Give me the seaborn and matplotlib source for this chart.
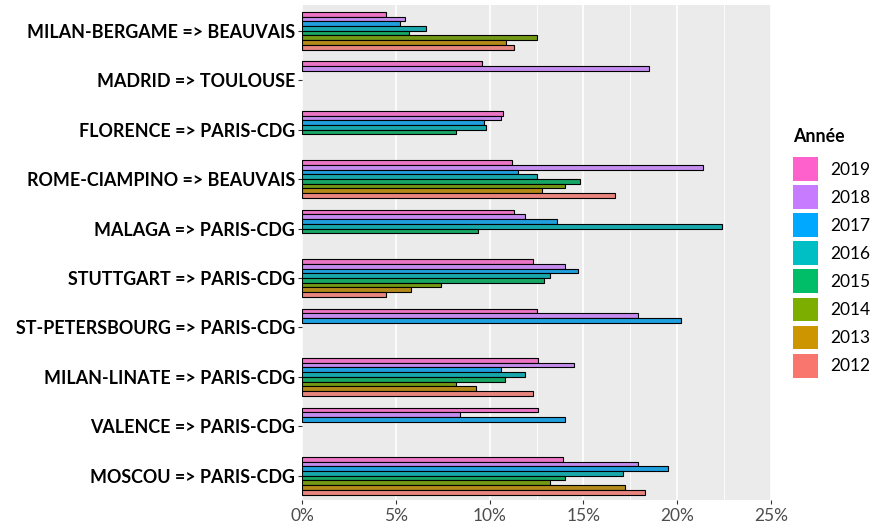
import numpy as np
import pandas as pd
import matplotlib
matplotlib.use('Agg')
import matplotlib.pyplot as plt
import seaborn as sns
from matplotlib.patches import Patch
from matplotlib.legend_handler import HandlerPatch
from matplotlib.ticker import PercentFormatter

nan = np.nan

# routes (top to bottom)
routes = ['MILAN-BERGAME => BEAUVAIS', 'MADRID => TOULOUSE', 'FLORENCE => PARIS-CDG',
          'ROME-CIAMPINO => BEAUVAIS', 'MALAGA => PARIS-CDG', 'STUTTGART => PARIS-CDG',
          'ST-PETERSBOURG => PARIS-CDG', 'MILAN-LINATE => PARIS-CDG', 'VALENCE => PARIS-CDG',
          'MOSCOU => PARIS-CDG']

years = ['2019', '2018', '2017', '2016', '2015', '2014', '2013', '2012']

# values in %
v2019 = [4.5, 9.6, 10.7, 11.2, 11.3, 12.3, 12.5, 12.6, 12.6, 13.9]
v2018 = [5.5, 18.5, 10.6, 21.4, 11.9, 14.0, 17.9, 14.5, 8.4, 17.9]
v2017 = [5.2, nan, 9.7, 11.5, 13.6, 14.7, 20.2, 10.6, 14.0, 19.5]
v2016 = [6.6, nan, 9.8, 12.5, 22.4, 13.2, nan, 11.9, nan, 17.1]
v2015 = [5.7, nan, 8.2, 14.8, 9.4, 12.9, nan, 10.8, nan, 14.0]
v2014 = [12.5, nan, nan, 14.0, nan, 7.4, nan, 8.2, nan, 13.2]
v2013 = [10.9, nan, nan, 12.8, nan, 5.8, nan, 9.3, nan, 17.2]
v2012 = [11.3, nan, nan, 16.7, nan, 4.5, nan, 12.3, nan, 18.3]

colors = ['#FF61CC', '#C77CFF', '#00A9FF', '#00BFC4', '#00BE67', '#7CAE00', '#CD9600', '#F8766D']

values = [v2019, v2018, v2017, v2016, v2015, v2014, v2013, v2012]
rows = []
for y, vals in zip(years, values):
    for r, v in zip(routes, vals):
        if not np.isnan(v):
            rows.append({'route': r, 'year': y, 'value': v})
df = pd.DataFrame(rows)

fig = plt.figure(figsize=(8.88, 5.23), dpi=100)
ax = fig.add_axes([302 / 888, 1 - 500 / 523, (771 - 302) / 888, (500 - 5) / 523])

sns.barplot(data=df, y='route', x='value', hue='year', order=routes, hue_order=years,
            palette=colors, orient='h', width=0.76, edgecolor='black', linewidth=0.8,
            dodge=True, ax=ax, legend=False, zorder=3)

ax.set_facecolor('#EBEBEB')
for s in ax.spines.values():
    s.set_visible(False)

ax.set_xlim(0, 25)
ax.set_ylim(9.49, -0.52)
ax.set_xticks([0, 5, 10, 15, 20, 25])
ax.set_xticks([12.5, 17.5, 22.5], minor=True)
ax.xaxis.set_major_formatter(PercentFormatter(decimals=0))
ax.grid(axis='x', which='major', color='white', lw=1.2, zorder=0)
ax.grid(axis='x', which='minor', color='white', lw=0.6, zorder=0)
ax.grid(axis='y', visible=False)
ax.set_axisbelow(True)
ax.tick_params(axis='x', which='minor', length=0)
ax.tick_params(axis='x', which='major', length=3, color='#333333', labelsize=12.5,
               labelcolor='#4D4D4D', pad=3)
ax.tick_params(axis='y', length=3, color='#333333', pad=2)
for lab in ax.get_xticklabels():
    lab.set_family('Lato')
for lab in ax.get_yticklabels():
    lab.set_family('Lato')
    lab.set_fontweight('bold')
    lab.set_fontsize(12.9)
    lab.set_color('black')
ax.set_xlabel('')
ax.set_ylabel('')

# legend with big square keys like ggplot, title as separate text
fig.text(793 / 888, 1 - 137 / 523, 'Année', family='Lato', fontweight='bold',
         fontsize=12.8, ha='left', va='center')
handles = [Patch(facecolor=c, edgecolor='none', label=y) for c, y in zip(colors, years)]
leg = fig.legend(handles=handles, loc='upper left',
                 bbox_to_anchor=(793 / 888, 1 - 157 / 523), frameon=False,
                 prop={'family': 'Lato', 'size': 12.5},
                 handler_map={Patch: HandlerPatch(ypad=0)},
                 handlelength=1.44, handleheight=1.73, labelspacing=0.25,
                 handletextpad=0.7, borderaxespad=0, borderpad=0)

fig.savefig('out.png', dpi=100)
